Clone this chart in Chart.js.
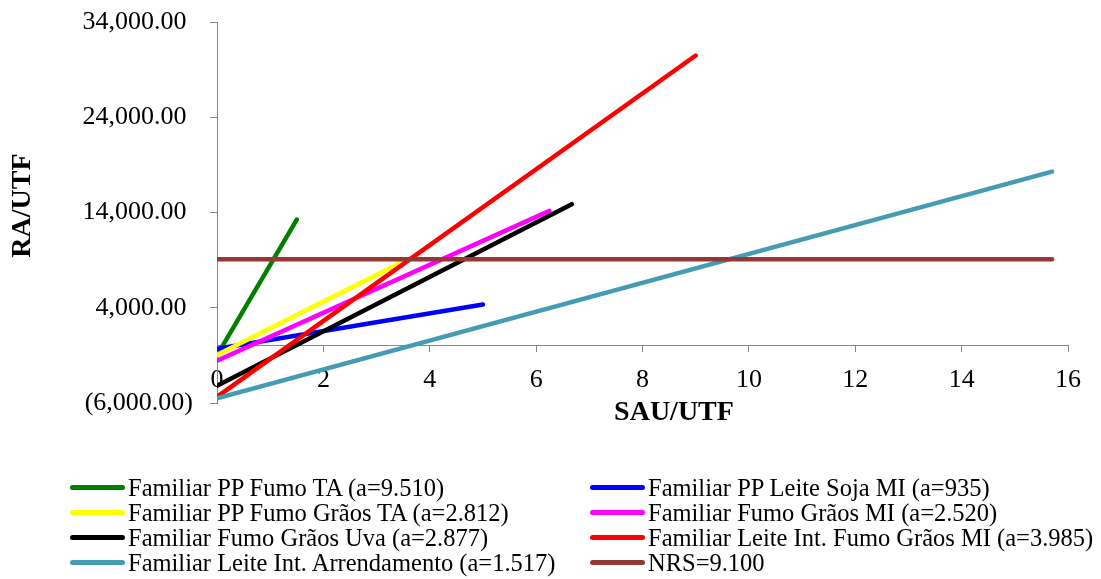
<!DOCTYPE html>
<html>
<head>
<meta charset="utf-8">
<script src="https://cdn.jsdelivr.net/npm/chart.js@4/dist/chart.umd.min.js"></script>
<style>
  body { margin: 0; background: #fff; }
  #wrap { position: relative; width: 1101px; height: 579px; }
  #legend { position: absolute; left: 0; top: 0; width: 1101px; height: 579px; pointer-events: none;
    font-family: 'Liberation Serif', 'Times New Roman', serif; font-size: 24.5px; color: #000; }
  .item { position: absolute; height: 25px; line-height: 25px; white-space: nowrap; }
  .swatch { position: absolute; top: 10px; height: 5px; border-radius: 3px; }
  .label { position: absolute; top: 0; }
</style>
</head>
<body>
<div id="wrap">
  <canvas id="chart" width="1101" height="579"></canvas>
  <div id="legend"></div>
</div>
<script>
// series names as in the legend (Excel order)
const seriesNames = [
  'Familiar PP Fumo TA (a=9.510)',
  'Familiar PP Leite Soja MI (a=935)',
  'Familiar PP Fumo Grãos TA (a=2.812)',
  'Familiar Fumo Grãos MI (a=2.520)',
  'Familiar Fumo Grãos Uva (a=2.877)',
  'Familiar Leite Int. Fumo Grãos MI (a=3.985)',
  'Familiar Leite Int. Arrendamento (a=1.517)',
  'NRS=9.100'
];
const seriesColors = ['#008000', '#0000ff', '#ffff00', '#ff00ff', '#000000', '#ff0000', '#449bb3', '#953735'];

// endpoints (SAU/UTF, RA/UTF)
const xStart = [0, 0, 0, 0, 0, 0, 0, 0];
const yStart = [-1000, -300, -950, -1550, -4200, -5350, -5500, 9100];
const xEnd = [1.5, 5.0, 3.5, 6.25, 6.67, 9.0, 15.7, 15.7];
const yEnd = [13270, 4350, 8850, 14180, 14880, 30500, 18300, 9100];

const xTicks = [0, 2, 4, 6, 8, 10, 12, 14, 16];
const yTicks = [-6000, 4000, 14000, 24000, 34000];

const serif = "'Liberation Serif', 'Times New Roman', serif";
const axisGray = '#868686';

function fmt(v) {
  const s = Math.abs(v).toLocaleString('en-US', {minimumFractionDigits: 2, maximumFractionDigits: 2});
  return v < 0 ? '(' + s + ')' : s + ' ';
}

const datasets = seriesNames.map((name, i) => ({
  label: name,
  data: [{x: xStart[i], y: yStart[i]}, {x: xEnd[i], y: yEnd[i]}],
  borderColor: seriesColors[i],
  backgroundColor: seriesColors[i],
  borderWidth: 4.5,
  borderCapStyle: 'round',
  pointRadius: 0,
  showLine: true,
  order: seriesNames.length - i // later series on top, like Excel
}));

new Chart(document.getElementById('chart'), {
  type: 'scatter',
  data: { datasets: datasets },
  options: {
    responsive: false,
    animation: false,
    layout: { padding: { left: 0, right: 33, top: 20, bottom: 176 } },
    plugins: { legend: { display: false }, tooltip: { enabled: false } },
    scales: {
      x: {
        type: 'linear',
        position: { y: 0 },
        min: 0, max: 16,
        afterBuildTicks: (s) => { s.ticks = xTicks.map(v => ({value: v})); },
        afterFit: (s) => { s.height = 84; },
        grid: { drawOnChartArea: false, drawTicks: true, tickLength: 6, color: axisGray },
        border: { color: axisGray, width: 1 },
        ticks: { font: { family: serif, size: 26 }, color: '#000', padding: 13, maxRotation: 0 },
        title: { display: true, text: '         SAU/UTF', color: '#000',
          font: { family: serif, size: 28, weight: 'bold' }, padding: { top: 0, bottom: 0 } }
      },
      y: {
        type: 'linear',
        position: 'left',
        min: -6000, max: 34000,
        afterBuildTicks: (s) => { s.ticks = yTicks.map(v => ({value: v})); },
        afterFit: (s) => { s.width = 217; },
        grid: { drawOnChartArea: false, drawTicks: true, tickLength: 7, color: axisGray },
        border: { color: axisGray, width: 1 },
        ticks: { font: { family: serif, size: 26, lineHeight: 0.4 }, color: '#000', padding: 17, callback: (v) => fmt(v) },
        title: { display: true, text: '  RA/UTF', color: '#000',
          font: { family: serif, size: 28, weight: 'bold' }, padding: { top: 6, bottom: 0 } }
      }
    }
  }
});

// two-column legend like the Excel one
const legend = document.getElementById('legend');
const colX = [70, 590];
const rowY = 475;
seriesNames.forEach((name, i) => {
  const col = i % 2, row = Math.floor(i / 2);
  const item = document.createElement('div');
  item.className = 'item';
  item.style.left = colX[col] + 'px';
  item.style.top = (rowY + row * 25) + 'px';
  const sw = document.createElement('div');
  sw.className = 'swatch';
  sw.style.left = '0px';
  sw.style.width = '55px';
  sw.style.background = seriesColors[i];
  const lb = document.createElement('span');
  lb.className = 'label';
  lb.style.left = '58px';
  lb.textContent = name;
  item.appendChild(sw);
  item.appendChild(lb);
  legend.appendChild(item);
});
</script>
</body>
</html>
